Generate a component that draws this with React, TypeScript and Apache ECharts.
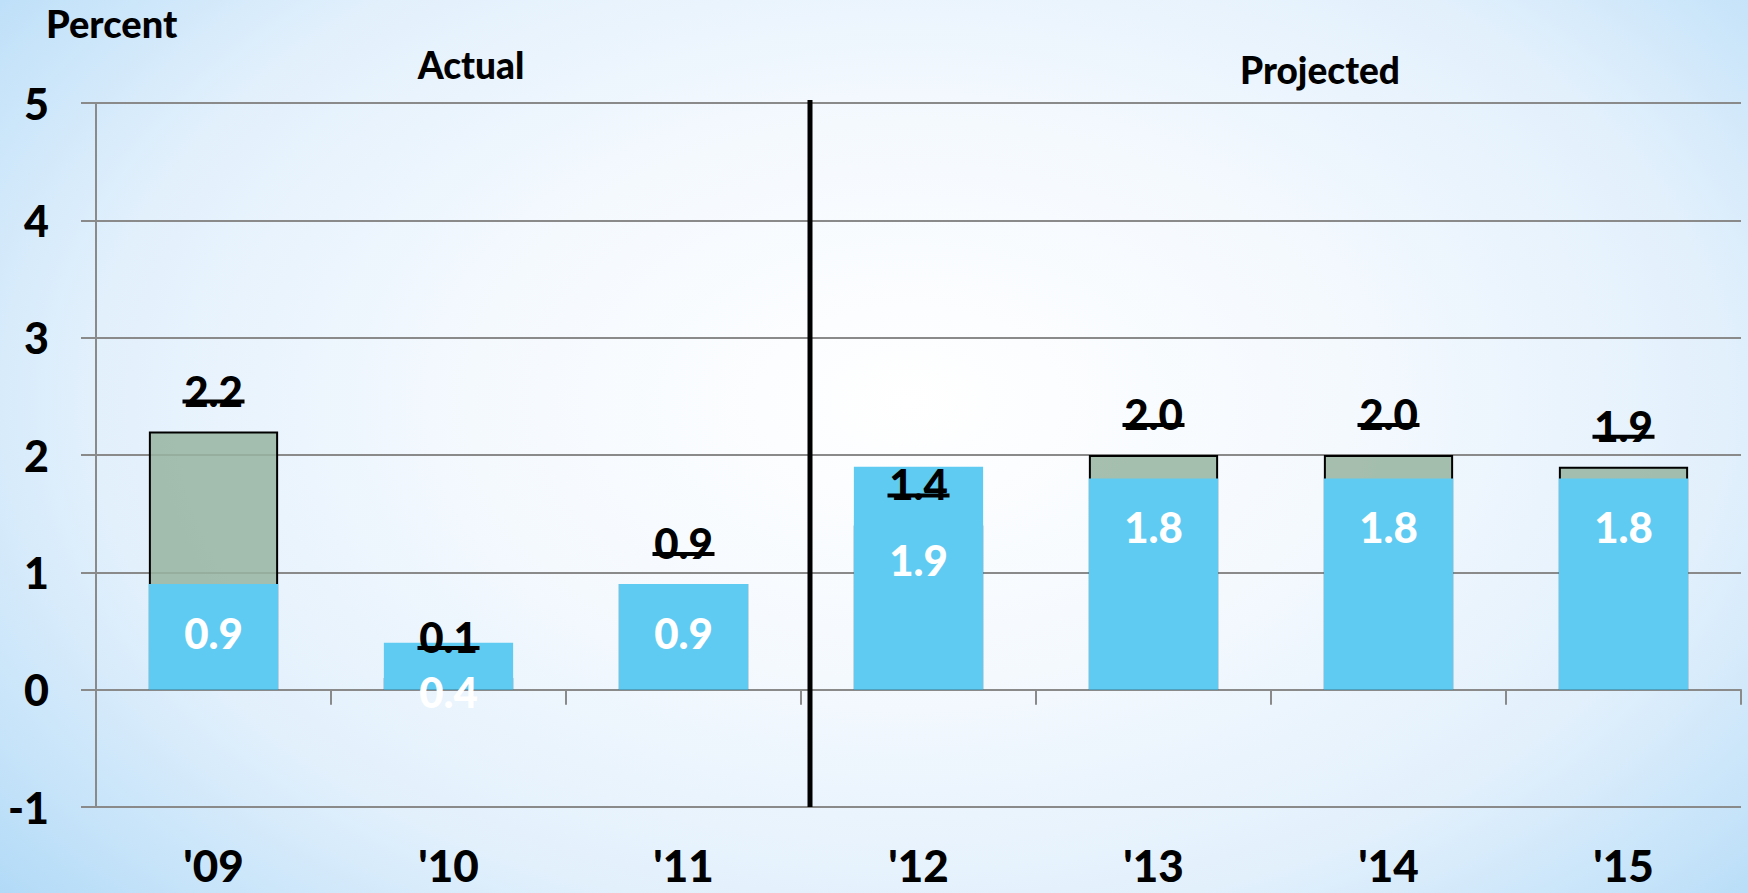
import React, { useEffect, useRef } from "react";
import * as echarts from "echarts";

const categories = ["'09", "'10", "'11", "'12", "'13", "'14", "'15"];
const previousValues = [2.2, 0.1, 0.9, 1.4, 2.0, 2.0, 1.9];
const currentValues = [0.9, 0.4, 0.9, 1.9, 1.8, 1.8, 1.8];
const yMin = -1;
const yMax = 5;
const yInterval = 1;
const lastActualIndex = 2;
const unitLabel = "Percent";
const actualLabel = "Actual";
const projectedLabel = "Projected";

const FONT = "Lato, 'Open Sans', 'DejaVu Sans', sans-serif";
const GREY = "#8a8a8a";

export default function App() {
  const ref = useRef<HTMLDivElement>(null);

  useEffect(() => {
    if (!ref.current) return;
    const chart = echarts.init(ref.current, null, { renderer: "svg" });

    chart.setOption({
      animation: false,
      backgroundColor: "transparent",
      grid: { left: 96, right: 7, top: 103, bottom: 86, outerBoundsMode: "none", containLabel: false },
      xAxis: {
        type: "category",
        data: categories,
        axisLine: { onZero: true, lineStyle: { color: GREY, width: 2 } },
        axisTick: { show: true, length: 15, lineStyle: { color: GREY, width: 2 } },
        axisLabel: {
          margin: 36,
          color: "#000",
          fontFamily: FONT,
          fontWeight: 900,
          fontSize: 44,
        },
      },
      yAxis: {
        type: "value",
        min: yMin,
        max: yMax,
        interval: yInterval,
        axisLine: { show: true, lineStyle: { color: GREY, width: 2 } },
        axisTick: { show: true, length: 15, lineStyle: { color: GREY, width: 2 } },
        axisLabel: {
          margin: 47,
          color: "#000",
          fontFamily: FONT,
          fontWeight: 900,
          fontSize: 43,
        },
        splitLine: { show: true, lineStyle: { color: GREY, width: 2 } },
      },
      series: [
        {
          name: "previous",
          type: "bar",
          data: previousValues,
          barWidth: "55%",
          z: 2,
          itemStyle: {
            color: "rgba(150,180,160,0.85)",
            borderColor: "#000",
            borderWidth: 2,
          },
        },
        {
          name: "current",
          type: "bar",
          data: currentValues,
          barWidth: "55%",
          barGap: "-100%",
          z: 3,
          itemStyle: { color: "#5fcbf2" },
          label: {
            show: true,
            position: "insideTop",
            distance: 28,
            color: "#fff",
            fontFamily: FONT,
            fontWeight: 900,
            fontSize: 42,
            formatter: (p: any) => Number(p.value).toFixed(1),
          },
          // push the label down when the previous value's label sits in the upper part of this bar
          labelLayout: (p: any) => {
            const prev = previousValues[p.dataIndex];
            const cur = currentValues[p.dataIndex];
            return prev < cur && prev > cur / 2 ? { dy: 44 } : {};
          },
        },
        {
          name: "previousLabels",
          type: "custom",
          z: 10,
          data: previousValues.map((v, i) => [i, v]),
          encode: { x: 0, y: 1 },
          renderItem: (params: any, api: any) => {
            const v = api.value(1);
            const p = api.coord([api.value(0), v]);
            return {
              type: "group",
              children: [
                {
                  type: "text",
                  x: p[0],
                  y: p[1] - 41,
                  style: {
                    text: Number(v).toFixed(1),
                    fill: "#000",
                    font: `900 42px ${FONT}`,
                    align: "center",
                    verticalAlign: "middle",
                  },
                },
                {
                  type: "line",
                  shape: { x1: p[0] - 31, y1: p[1] - 30, x2: p[0] + 31, y2: p[1] - 30 },
                  style: { stroke: "#000", lineWidth: 4 },
                },
              ],
            };
          },
        },
      ],
    });

    const xa = chart.convertToPixel({ xAxisIndex: 0 }, categories[lastActualIndex]) as number;
    const xb = chart.convertToPixel({ xAxisIndex: 0 }, categories[lastActualIndex + 1]) as number;
    const yTop = chart.convertToPixel({ yAxisIndex: 0 }, yMax) as number;
    const yBot = chart.convertToPixel({ yAxisIndex: 0 }, yMin) as number;
    const xDiv = (xa + xb) / 2 + 9;

    chart.setOption({
      graphic: [
        {
          type: "line",
          z: 20,
          shape: { x1: xDiv, y1: yTop - 3, x2: xDiv, y2: yBot },
          style: { stroke: "#000", lineWidth: 5 },
        },
        {
          type: "text",
          left: 46,
          top: 4,
          style: { text: unitLabel, fill: "#000", font: `900 38px ${FONT}` },
        },
        {
          type: "text",
          x: 471,
          y: 64,
          style: {
            text: actualLabel,
            fill: "#000",
            font: `900 37px ${FONT}`,
            align: "center",
            verticalAlign: "middle",
          },
        },
        {
          type: "text",
          x: 1320,
          y: 69,
          style: {
            text: projectedLabel,
            fill: "#000",
            font: `900 37px ${FONT}`,
            align: "center",
            verticalAlign: "middle",
          },
        },
      ],
    });

    return () => chart.dispose();
  }, []);

  return (
    <div
      style={{
        position: "absolute",
        left: 0,
        top: 0,
        width: 1748,
        height: 893,
        background:
          "radial-gradient(ellipse 72% 90% at 52% 45%, #ffffff 0%, #f4f9fe 35%, #e2f0fc 65%, #c3e2f9 85%, #a8d6f6 100%)",
      }}
    >
      <div ref={ref} style={{ width: 1748, height: 893 }} />
    </div>
  );
}
